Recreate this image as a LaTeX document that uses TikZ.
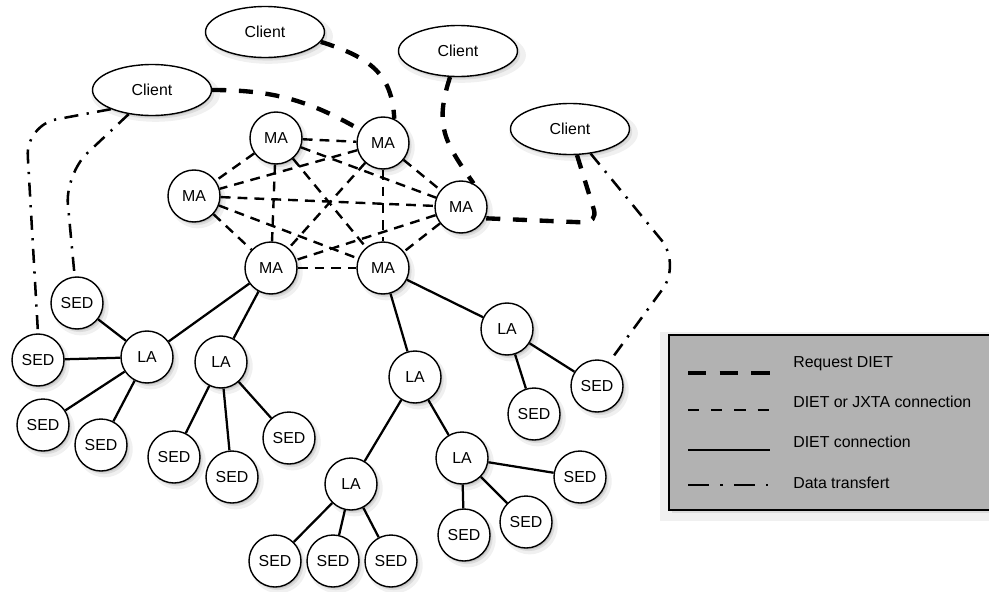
\documentclass[tikz,border=0pt]{standalone}
\usepackage{fontspec}
\setmainfont{Liberation Sans}
\usetikzlibrary{shapes.geometric,shadows}
\begin{document}
\begin{tikzpicture}[x=0.25mm,y=0.25mm,
  font=\fontsize{11.3}{13}\selectfont,
  softshadow/.style={drop shadow={shadow xshift=2.4pt,shadow yshift=-2.8pt,opacity=0.12,shadow scale=1.08},
                     drop shadow={shadow xshift=1.9pt,shadow yshift=-2.2pt,opacity=0.18},
                     drop shadow={shadow xshift=1.3pt,shadow yshift=-1.6pt,opacity=0.26,shadow scale=0.97}},
  agent/.style={circle,draw,line width=1pt,fill=white,minimum size=13mm,inner sep=0pt,softshadow},
  client/.style={ellipse,draw,line width=1pt,fill=white,minimum width=29.75mm,minimum height=12.75mm,inner sep=0pt,softshadow},
  diet/.style={line width=1.6pt},
  jxta/.style={line width=1.7pt,dash pattern=on 7pt off 5pt},
  req/.style={line width=3.1pt,dash pattern=on 10pt off 9pt},
  data/.style={line width=1.8pt,dash pattern=on 10pt off 6pt on 1.6pt off 6pt},
  legtext/.style={anchor=west,inner sep=0pt},
]
\useasboundingbox (0,0) rectangle (989,-591);

% legend box
\path[draw,line width=0.8pt,fill=gray!60,softshadow] (669,-335) rectangle (995,-510);

% clients
\node[client] (C1) at (265,-32) {Client};
\node[client] (C2) at (458,-51) {Client};
\node[client] (C3) at (152,-90) {Client};
\node[client] (C4) at (570,-129) {Client};

% master agents
\node[agent] (M1) at (276,-138) {MA};
\node[agent] (M2) at (383,-143) {MA};
\node[agent] (M3) at (194,-196) {MA};
\node[agent] (M4) at (461,-207) {MA};
\node[agent] (M5) at (271,-268) {MA};
\node[agent] (M6) at (383,-268) {MA};

% local agents
\node[agent] (L1) at (147,-357) {LA};
\node[agent] (L2) at (221,-362) {LA};
\node[agent] (L3) at (507,-329) {LA};
\node[agent] (L4) at (415,-377) {LA};
\node[agent] (L5) at (351,-484) {LA};
\node[agent] (L6) at (462,-458) {LA};

% servers
\node[agent] (Sa) at (77,-303) {SED};
\node[agent] (Sb) at (38,-360) {SED};
\node[agent] (Sc) at (43,-425) {SED};
\node[agent] (Sd) at (101,-445) {SED};
\node[agent] (Se) at (174,-457) {SED};
\node[agent] (Sf) at (232,-477) {SED};
\node[agent] (Sg) at (289,-438) {SED};
\node[agent] (Sh) at (534,-414) {SED};
\node[agent] (Si) at (597,-386) {SED};
\node[agent] (Sj) at (580,-477) {SED};
\node[agent] (Sk) at (526,-522) {SED};
\node[agent] (Sl) at (464,-535) {SED};
\node[agent] (Sm) at (275,-561) {SED};
\node[agent] (Sn) at (333,-561) {SED};
\node[agent] (So) at (391,-561) {SED};

% DIET or JXTA connections between MAs
\foreach \a/\b in {M1/M2,M1/M3,M1/M4,M1/M5,M1/M6,M2/M3,M2/M4,M2/M5,M2/M6,M3/M4,M3/M5,M3/M6,M4/M5,M4/M6,M5/M6}
  \draw[jxta] (\a) -- (\b);

% DIET connections
\foreach \a/\b in {M5/L1,M5/L2,L1/Sa,L1/Sb,L1/Sc,L1/Sd,L2/Se,L2/Sf,L2/Sg,M6/L3,M6/L4,L3/Sh,L3/Si,L4/L5,L4/L6,L5/Sm,L5/Sn,L5/So,L6/Sl,L6/Sk,L6/Sj}
  \draw[diet] (\a) -- (\b);

% Request DIET
\draw[req] (C1.350) .. controls (372,-58) and (392,-75) .. (M2.65);
\draw[req] (C3.east) to[out=0,in=150] (M2.150);
\draw[req] (C2.253) to[out=-108,in=125,looseness=1.2] (M4.62);
\draw[req,rounded corners=10pt] (C4.285) -- (598,-223) -- (M4.-25);

% Data transfert
\draw[data,rounded corners=22pt] (C3.205) -- (26,-125) -- (Sb.north);
\draw[data,rounded corners=22pt] (C3.226) -- (65,-174) -- (Sa.95);
\draw[data,rounded corners=22pt] (C4.310) -- (681,-264) -- (Si.63);

% legend
\coordinate (r1a) at (688,-373); \coordinate (r1b) at (770,-373);
\coordinate (r2a) at (688,-410); \coordinate (r2b) at (770,-410);
\coordinate (r3a) at (688,-450); \coordinate (r3b) at (770,-450);
\coordinate (r4a) at (688,-485); \coordinate (r4b) at (770,-485);
\draw[req,dash pattern=on 13pt off 9.5pt] (r1a) -- (r1b);
\draw[jxta,dash pattern=on 8pt off 8.5pt] (r2a) -- (r2b);
\draw[diet] (r3a) -- (r3b);
\draw[data,dash pattern=on 15pt off 8pt on 1.6pt off 8pt] (r4a) -- (r4b);
\node[legtext] (t1) at (793,-364) {Request DIET};
\node[legtext] (t2) at (793,-402) {DIET or JXTA connection};
\node[legtext] (t3) at (793,-442) {DIET connection};
\node[legtext] (t4) at (793,-483) {Data transfert};
\end{tikzpicture}
\end{document}
